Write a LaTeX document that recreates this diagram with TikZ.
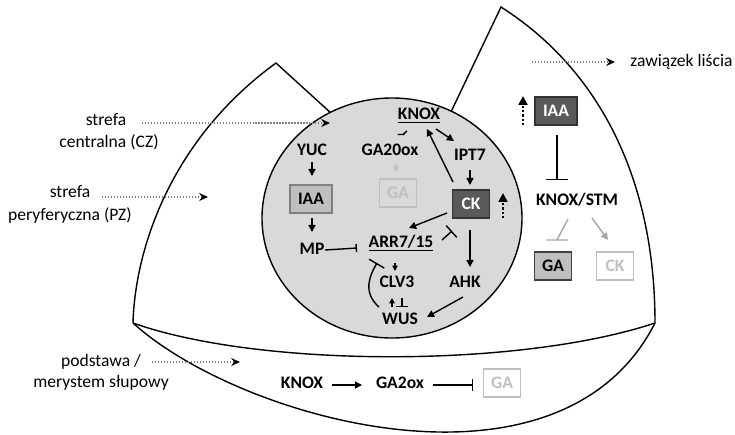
\documentclass[tikz,border=0pt]{standalone}
\usepackage{fontspec}
\setmainfont{Carlito}
\usetikzlibrary{arrows.meta}
\definecolor{czfill}{HTML}{D9D9D9}
\definecolor{boxdark}{HTML}{595959}
\definecolor{boxmid}{HTML}{BFBFBF}
\definecolor{faint}{HTML}{BFBFBF}
\definecolor{inhgray}{HTML}{A6A6A6}
\begin{document}
\begin{tikzpicture}[x=0.02cm, y=-0.02cm, line width=0.8pt,
  font=\fontsize{10}{12.5}\selectfont,
  gene/.style={font=\fontsize{10}{12.5}\selectfont\bfseries, inner sep=1pt},
  zone/.style={inner sep=1pt},
  box/.style={draw, font=\fontsize{10}{12.5}\selectfont\bfseries, minimum width=21pt, minimum height=16pt, inner sep=0pt},
  act/.style={-{Triangle[length=4pt,width=4pt]}},
  inh/.style={-{Bar[width=#1]}}, inh/.default=6pt,
  note/.style={draw=gray, densely dotted, line width=0.7pt, -{Stealth[length=5pt,width=4.5pt,color=black]}},
  rise/.style={dash pattern=on 1.2pt off 1.2pt, line width=1.3pt, -{Triangle[length=5pt,width=5pt]}}]
\useasboundingbox (0,0) rectangle (735,434);

% meristem outline
\draw (133,323) .. controls (135,250) and (170,140) .. (276,63) -- (332,114);
\draw (450,114) -- (501,7) .. controls (600,70) and (655,180) .. (655,323);
\draw (133,323) .. controls (260,368) and (520,368) .. (655,323);
\draw (133,323) .. controls (240,420) and (560,510) .. (655,323);
\draw[fill=czfill] (392,218) ellipse [x radius=130, y radius=120];

% central zone
\node[gene] (knox) at (419,116) {\underline{KNOX}};
\node[gene] (ga20) at (390,150) {GA20ox};
\node[gene] (yuc) at (312,150) {YUC};
\node[box, fill=boxmid, draw=gray, minimum width=24pt] (iaa) at (311,199) {IAA};
\node[gene] (mp) at (312,249) {MP};
\node[gene] (arr) at (401,243) {\underline{ARR7/15}};
\node[box, draw=faint, text=faint] (ga) at (398,193) {GA};
\node[gene] (ipt) at (470,155) {IPT7};
\node[box, fill=boxdark, draw=black!80, text=white] (ck) at (471,204) {CK};
\node[gene] (ahk) at (465,282) {AHK};
\node[gene] (clv) at (397,282) {CLV3};
\node[gene] (wus) at (400,319) {WUS};

% leaf primordium
\node[zone, anchor=west] (leaf) at (628,62) {zawiązek liścia};
\node[box, fill=boxdark, draw=black!80, text=white, minimum width=24pt] (iaaleaf) at (556,111) {IAA};
\node[gene] (stm) at (577,200) {KNOX/STM};
\node[box, fill=boxmid, draw=black!75] (galeaf) at (553,266) {GA};
\node[box, draw=faint, text=faint] (ckleaf) at (615,266) {CK};

% rib meristem
\node[gene] (knoxrib) at (302,383) {KNOX};
\node[gene] (ga2ox) at (400,383) {GA2ox};
\node[box, draw=faint, text=faint] (garib) at (502,383) {GA};

% zone labels
\node[zone] (cz) at (106,120) {strefa};
\node[zone] (czb) at (109,142) {centralna (CZ)};
\node[zone] (pz) at (70,192) {strefa};
\node[zone] (pzb) at (70,215) {peryferyczna (PZ)};
\node[zone] (rib) at (101,362) {podstawa /};
\node[zone] (ribb) at (101,383) {merystem słupowy};
\coordinate (czend) at (330,123);
\coordinate (pzend) at (208,197);
\coordinate (ribend) at (240,362);
\coordinate (leafstart) at (532,62);

\draw[note] ([shift={(36,3)}]cz.center) -- (czend);
\draw[note] ([shift={(32,5)}]pz.center) -- (pzend);
\draw[note] ([shift={(51,0)}]rib.center) -- (ribend);
\draw[note] (leafstart) -- ([shift={(-13,0)}]leaf.west);

% central zone links
\draw[act] ([shift={(0,12)}]yuc.center) -- ([shift={(1,-23)}]iaa.center);
\draw[act] ([shift={(1,19)}]iaa.center) -- ([shift={(0,-17)}]mp.center);
\draw[inh=4.5pt] ([shift={(13,1)}]mp.center) -- ([shift={(-44,5)}]arr.center);
\draw ([shift={(-12,15)}]knox.center) -- ++(-4,3.5) ++(1.5,0) -- ++(-7,0);
\draw[draw=faint, -{Triangle[length=3pt,width=3pt]}] ([shift={(6,14)}]ga20.center) -- ([shift={(-2,-21)}]ga.center);
\draw[act] ([shift={(17,13)}]knox.center) -- ([shift={(-16,-14)}]ipt.center);
\draw[act] ([shift={(0,15)}]ipt.center) -- ([shift={(-1,-19)}]ck.center);
\draw[act] ([shift={(-18,-22)}]ck.center) -- ([shift={(8,13)}]knox.center);
\draw[act] ([shift={(-24,9)}]ck.center) -- ([shift={(8,-15)}]arr.center);
\draw[inh=9pt] ([shift={(41,-3)}]arr.center) -- ([shift={(-19,27)}]ck.center);
\draw[act] ([shift={(-1,26)}]ck.center) -- ([shift={(5,-15)}]ahk.center);
\draw[act] ([shift={(-2,15)}]ahk.center) -- ([shift={(27,-2)}]wus.center);
\draw[-{Triangle[length=3pt,width=3pt]}] ([shift={(-6,20)}]arr.center) -- ([shift={(-2,-11)}]clv.center);
\draw[-{Triangle[length=3pt,width=3pt]}] ([shift={(-8,-12)}]wus.center) -- ([shift={(-5,16)}]clv.center);
\draw[inh=6.5pt] ([shift={(5,16)}]clv.center) -- ([shift={(2,-12)}]wus.center);
\draw[inh=10pt] ([shift={(-21,-12)}]wus.center) .. controls (362,292) and (370,275) .. ([shift={(-24,20)}]arr.center);
\draw[rise] ([shift={(32,14)}]ck.center) -- ([shift={(32,-11)}]ck.center);

% leaf links
\draw[rise] ([shift={(-33,14)}]iaaleaf.center) -- ([shift={(-33,-15)}]iaaleaf.center);
\draw[inh=12.5pt] ([shift={(1,24)}]iaaleaf.center) -- ([shift={(-20,-20)}]stm.center);
\draw[draw=inhgray] ([shift={(-9,19)}]stm.center) -- ([shift={(4,-26)}]galeaf.center) ++(-11,0) -- ++(22,0);
\draw[act, draw=inhgray] ([shift={(15,18)}]stm.center) -- ([shift={(-7,-26)}]ckleaf.center);

% rib links
\draw[act] ([shift={(30,2)}]knoxrib.center) -- ([shift={(-38,2)}]ga2ox.center);
\draw[inh=7pt] ([shift={(33,2)}]ga2ox.center) -- ([shift={(-29,2)}]garib.center);
\end{tikzpicture}
\end{document}
